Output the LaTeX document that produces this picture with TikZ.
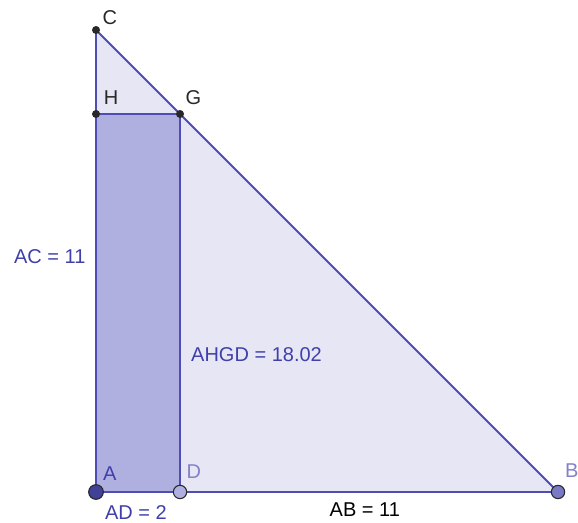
\documentclass[tikz,border=0pt]{standalone}
\usepackage{fontspec}
\setmainfont{Liberation Sans}
\usetikzlibrary{calc}
\definecolor{ggline}{RGB}{77,77,179}
\definecolor{ggfill}{RGB}{230,230,245}
\definecolor{ggrect}{RGB}{176,176,224}
\definecolor{ggtext}{RGB}{64,64,170}
\definecolor{ggdark}{RGB}{40,40,40}

\begin{document}
\begin{tikzpicture}[x=31.5pt, y=31.5pt,
  seg/.style={draw=ggline, line width=1.4pt},
  bigpt/.style={circle, draw=ggdark, line width=0.8pt, minimum size=10pt, inner sep=0pt},
  smallpt/.style={circle, fill=ggdark, minimum size=6pt, inner sep=0pt},
  lbl/.style={font=\fontsize{15}{17}\selectfont, inner sep=0pt}]
\useasboundingbox (-2.286,-0.738) rectangle (11.476,11.714);
\coordinate (A) at (0,0);
\coordinate (B) at (11,0);
\coordinate (C) at (0,11);
\coordinate (H) at (0,9);
\coordinate (G) at (2,9);
\coordinate (D) at (2,0);
% triangle and rectangle
\fill[ggfill] (A) -- (B) -- (C) -- cycle;
\fill[ggrect] (A) rectangle (G);
\draw[seg] (A) -- (B) -- (C) -- cycle;
\draw[seg] (A) -- (H) -- (G) -- (D) -- cycle;
% points
\node[smallpt] (c) at (C) {};
\node[smallpt] (h) at (H) {};
\node[smallpt] (g) at (G) {};
\node[bigpt, fill=ggline!85!black, minimum size=11pt] (a) at (A) {};
\node[bigpt, fill=ggrect] (d) at (D) {};
\node[bigpt, fill=ggline!75!white] (b) at (B) {};
% point labels
\node[lbl, text=ggdark] (lc) at ($(C)+(0.33,0.3)$) {C};
\node[lbl, text=ggdark] (lh) at ($(H)+(0.36,0.38)$) {H};
\node[lbl, text=ggdark] (lg) at ($(G)+(0.32,0.38)$) {G};
\node[lbl, text=ggtext] (la) at ($(A)+(0.33,0.43)$) {A};
\node[lbl, text=ggline!70!white] (ld) at ($(D)+(0.33,0.48)$) {D};
\node[lbl, text=ggline!70!white] (lb) at ($(B)+(0.33,0.52)$) {B};
% measures
\node[lbl, text=ggtext] (mad) at (0.95,-0.48) {AD = 2};
\node[lbl, text=black] (mab) at (6.4,-0.43) {AB = 11};
\node[lbl, text=ggtext] (mac) at (-1.1,5.6) {AC = 11};
\node[lbl, text=ggtext, anchor=west] (mrect) at (2.26,3.26) {AHGD = 18.02};
\end{tikzpicture}
\end{document}
